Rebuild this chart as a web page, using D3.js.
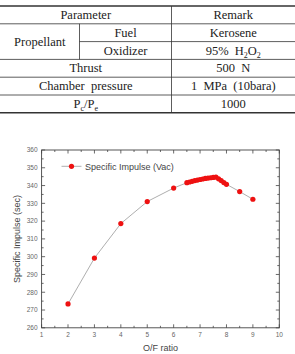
<!DOCTYPE html>
<html>
<head>
<meta charset="utf-8">
<script src="https://cdn.jsdelivr.net/npm/d3@7"></script>
<style>
  html, body { margin: 0; padding: 0; background: #fff; }
  svg { display: block; }
</style>
</head>
<body>
<svg id="fig" width="295" height="354"></svg>
<script>
'use strict';

// ─── Data ────────────────────────────────────────────────────────────────────
const ofRatio = [2, 3, 4, 5, 6, 6.5, 6.6, 6.7, 6.8, 6.9, 7.0, 7.1, 7.2, 7.3, 7.4, 7.5, 7.6, 7.7, 7.8, 7.9, 8.0, 8.5, 9];
const ispVac  = [273.4, 299.2, 318.6, 331.0, 338.6, 341.6, 342.0, 342.4, 342.8, 343.1, 343.4, 343.7, 344.0, 344.2, 344.4, 344.6, 344.8, 343.8, 342.8, 341.7, 340.7, 336.6, 332.3];
const seriesName = 'Specific Impulse (Vac)';
const xTicks = [1, 2, 3, 4, 5, 6, 7, 8, 9, 10];
const yTicks = [260, 270, 280, 290, 300, 310, 320, 330, 340, 350, 360];

// table rows: [col1, col2, remark]
const tableHeader = ['Parameter', 'Remark'];
const propellantRows = [['Fuel', 'Kerosene'], ['Oxidizer', '95%  H2O2']];
const otherRows = [['Thrust', '500  N'], ['Chamber  pressure', '1  MPa  (10bara)'], ['Pc/Pe', '1000']];

const svg = d3.select('#fig');

// ─── Table ───────────────────────────────────────────────────────────────────
const T = { left: 0, right: 295, top: 6, rowH: 17.8, c1: 79.5, c2: 171.5 };
const tFont = "'Liberation Serif', 'DejaVu Serif', serif";
const tg = svg.append('g').attr('font-family', tFont).attr('font-size', 12.5).attr('fill', '#222');
const rowY = i => T.top + i * T.rowH;
const nRows = 1 + propellantRows.length + otherRows.length;

// horizontal lines
for (let i = 0; i <= nRows; i++) {
  const heavy = i === 0 || i === nRows;
  const x1 = (i === 2) ? T.c1 : T.left;
  tg.append('line').attr('x1', x1).attr('x2', T.right)
    .attr('y1', rowY(i)).attr('y2', rowY(i))
    .attr('stroke', '#333').attr('stroke-width', heavy ? 1.6 : 0.8);
}
// vertical lines
tg.append('line').attr('x1', T.c2).attr('x2', T.c2).attr('y1', rowY(0)).attr('y2', rowY(nRows))
  .attr('stroke', '#333').attr('stroke-width', 0.8);
tg.append('line').attr('x1', T.c1).attr('x2', T.c1).attr('y1', rowY(1)).attr('y2', rowY(3))
  .attr('stroke', '#333').attr('stroke-width', 0.8);

function cellText(x, yMid, txt) {
  const t = tg.append('text').attr('x', x).attr('y', yMid + 4).attr('text-anchor', 'middle')
    .attr('xml:space', 'preserve');
  if (txt === '95%  H2O2') {
    t.append('tspan').text('95%  H');
    t.append('tspan').attr('font-size', 8).attr('dy', 3).text('2');
    t.append('tspan').attr('dy', -3).text('O');
    t.append('tspan').attr('font-size', 8).attr('dy', 3).text('2');
  } else if (txt === 'Pc/Pe') {
    t.append('tspan').text('P');
    t.append('tspan').attr('font-size', 8).attr('dy', 3).text('c');
    t.append('tspan').attr('dy', -3).text('/P');
    t.append('tspan').attr('font-size', 8).attr('dy', 3).text('e');
  } else {
    t.text(txt);
  }
}
const midL = T.c2 / 2, midR = (T.c2 + T.right) / 2;
cellText(midL, rowY(0.5), tableHeader[0]);
cellText(midR, rowY(0.5), tableHeader[1]);
cellText(T.c1 / 2, rowY(2), 'Propellant');
propellantRows.forEach((r, i) => {
  cellText((T.c1 + T.c2) / 2, rowY(1.5 + i), r[0]);
  cellText(midR, rowY(1.5 + i), r[1]);
});
otherRows.forEach((r, i) => {
  cellText(midL, rowY(3.5 + i), r[0]);
  cellText(midR, rowY(3.5 + i), r[1]);
});

// ─── Chart ───────────────────────────────────────────────────────────────────
const P = { left: 41.6, right: 279.3, top: 150, bottom: 327.8 };
const x = d3.scaleLinear().domain([1, 10]).range([P.left, P.right]);
const y = d3.scaleLinear().domain([260, 360]).range([P.bottom, P.top]);
const axColor = '#444', lblColor = '#666';
const cg = svg.append('g').attr('font-family', "'Liberation Sans', Arial, sans-serif");

// inward ticks on all four sides
const xMinor = d3.range(1, 10.01, 0.5);
const yMinor = d3.range(260, 360.01, 5);
const tickLen = v => (Number.isInteger(v) ? 3.5 : 2);
const yTickLen = v => (v % 10 === 0 ? 3.5 : 2);
xMinor.forEach(v => {
  const xp = x(v), L = tickLen(v);
  cg.append('line').attr('x1', xp).attr('x2', xp).attr('y1', P.bottom).attr('y2', P.bottom - L).attr('stroke', axColor).attr('stroke-width', 0.8);
  cg.append('line').attr('x1', xp).attr('x2', xp).attr('y1', P.top).attr('y2', P.top + L).attr('stroke', axColor).attr('stroke-width', 0.8);
});
yMinor.forEach(v => {
  const yp = y(v), L = yTickLen(v);
  cg.append('line').attr('y1', yp).attr('y2', yp).attr('x1', P.left).attr('x2', P.left + L).attr('stroke', axColor).attr('stroke-width', 0.8);
  cg.append('line').attr('y1', yp).attr('y2', yp).attr('x1', P.right).attr('x2', P.right - L).attr('stroke', axColor).attr('stroke-width', 0.8);
});
cg.append('rect').attr('x', P.left).attr('y', P.top)
  .attr('width', P.right - P.left).attr('height', P.bottom - P.top)
  .attr('fill', 'none').attr('stroke', axColor).attr('stroke-width', 0.9);

// tick labels
cg.selectAll('.xt').data(xTicks).join('text')
  .attr('x', d => x(d)).attr('y', P.bottom + 9.5)
  .attr('text-anchor', 'middle').attr('font-size', 6.5).attr('fill', lblColor)
  .text(d => d);
cg.selectAll('.yt').data(yTicks).join('text')
  .attr('x', P.left - 4).attr('y', d => y(d) + 2.3)
  .attr('text-anchor', 'end').attr('font-size', 6.5).attr('fill', lblColor)
  .text(d => d);

// axis titles
cg.append('text').attr('x', (P.left + P.right) / 2).attr('y', 351)
  .attr('text-anchor', 'middle').attr('font-size', 9).attr('fill', '#444').text('O/F ratio');
cg.append('text').attr('transform', `translate(20,${(P.top + P.bottom) / 2}) rotate(-90)`)
  .attr('text-anchor', 'middle').attr('font-size', 9).attr('fill', '#444').text('Specific Impulse (sec)');

// series
const pts = ofRatio.map((v, i) => [v, ispVac[i]]);
cg.append('path').datum(pts)
  .attr('d', d3.line().x(d => x(d[0])).y(d => y(d[1])))
  .attr('fill', 'none').attr('stroke', '#999').attr('stroke-width', 0.8);
cg.selectAll('.pt').data(pts).join('circle')
  .attr('cx', d => x(d[0])).attr('cy', d => y(d[1])).attr('r', 2.6)
  .attr('fill', '#ee1111');

// legend
const lgY = 166.3;
cg.append('line').attr('x1', 61.5).attr('x2', 81.5).attr('y1', lgY).attr('y2', lgY)
  .attr('stroke', '#999').attr('stroke-width', 0.8);
cg.append('circle').attr('cx', 71.5).attr('cy', lgY).attr('r', 2.6).attr('fill', '#ee1111');
cg.append('text').attr('x', 85).attr('y', lgY + 3.2).attr('font-size', 9).attr('fill', '#444').text(seriesName);
</script>
</body>
</html>
